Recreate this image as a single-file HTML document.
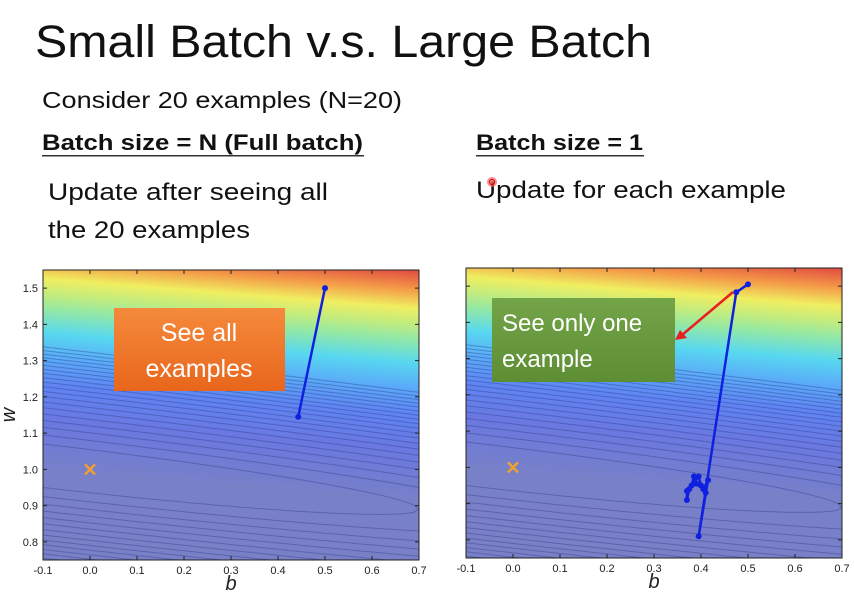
<!DOCTYPE html>
<html><head><meta charset="utf-8">
<style>
html,body{margin:0;padding:0;background:#fff;width:854px;height:603px;overflow:hidden;}
svg{display:block;}
text{font-family:"Liberation Sans",sans-serif;}
</style></head>
<body>
<svg id="root" width="854" height="603" viewBox="0 0 854 603" xmlns="http://www.w3.org/2000/svg">
<defs>
  <linearGradient id="heat" gradientUnits="userSpaceOnUse" x1="0" y1="290" x2="25.4" y2="-28">
    <stop offset="0" stop-color="#7a80c6"/>
    <stop offset="0.28" stop-color="#7880c8"/>
    <stop offset="0.4375" stop-color="#6a78e0"/>
    <stop offset="0.547" stop-color="#5f84f2"/>
    <stop offset="0.63" stop-color="#5aaaf8"/>
    <stop offset="0.71" stop-color="#58d8f0"/>
    <stop offset="0.78" stop-color="#90e8a8"/>
    <stop offset="0.828" stop-color="#c0ec80"/>
    <stop offset="0.88" stop-color="#f0ee60"/>
    <stop offset="0.9375" stop-color="#f49a48"/>
    <stop offset="1" stop-color="#e04a40"/>
  </linearGradient>
  <linearGradient id="orangeBox" x1="0" y1="0" x2="0" y2="1">
    <stop offset="0" stop-color="#f58a3c"/><stop offset="1" stop-color="#e8661c"/>
  </linearGradient>
  <linearGradient id="greenBox" x1="0" y1="0" x2="0" y2="1">
    <stop offset="0" stop-color="#74a448"/><stop offset="1" stop-color="#5e8e34"/>
  </linearGradient>
</defs>

<text x="35" y="57" font-size="45" textLength="617" lengthAdjust="spacingAndGlyphs" fill="#111">Small Batch v.s. Large Batch</text>
<text x="42" y="108" font-size="23" textLength="360" lengthAdjust="spacingAndGlyphs" fill="#111">Consider 20 examples (N=20)</text>
<text x="42" y="150" font-size="22" font-weight="bold" textLength="321" lengthAdjust="spacingAndGlyphs" fill="#111">Batch size = N (Full batch)</text>
<rect x="42" y="155" width="322" height="1.5" fill="#333"/>
<text x="476" y="150" font-size="22" font-weight="bold" textLength="167" lengthAdjust="spacingAndGlyphs" fill="#111">Batch size = 1</text>
<rect x="476" y="155" width="168" height="1.5" fill="#333"/>
<text x="48" y="200" font-size="24" textLength="280" lengthAdjust="spacingAndGlyphs" fill="#111">Update after seeing all</text>
<text x="48" y="238" font-size="24" textLength="202" lengthAdjust="spacingAndGlyphs" fill="#111">the 20 examples</text>
<text x="476" y="198" font-size="24" textLength="310" lengthAdjust="spacingAndGlyphs" fill="#111">Update for each example</text>
<circle cx="492" cy="182" r="5" fill="#ff6060" opacity="0.7"/>
<circle cx="492" cy="182" r="2.5" fill="none" stroke="#c00" stroke-width="1"/>

<g id="plotL" transform="translate(43,270)"></g>
<g id="plotR" transform="translate(466,268)"></g>
</svg>
<script>
// axis data
const xTicks = [-0.1, 0.0, 0.1, 0.2, 0.3, 0.4, 0.5, 0.6, 0.7];
const yTicks = [0.8, 0.9, 1.0, 1.1, 1.2, 1.3, 1.4, 1.5];
const xDomain = [-0.1, 0.7];
const yDomain = [0.75, 1.55];
const targetB = [0.0];
const targetW = [1.0];
// full batch path
const fullB = [0.5, 0.443];
const fullW = [1.5, 1.145];
// batch size 1 path
const sgdB = [0.5, 0.475, 0.395, 0.415, 0.405, 0.39, 0.385, 0.38, 0.37, 0.37, 0.375, 0.395, 0.40, 0.41];
const sgdW = [1.505, 1.483, 0.81, 0.965, 0.94, 0.955, 0.975, 0.95, 0.935, 0.91, 0.94, 0.975, 0.95, 0.93];
// contour half-widths (in w) around the loss valley, one per level
const contourHalfWidths = [0.06, 0.085, 0.106, 0.125, 0.143, 0.16, 0.176, 0.191, 0.205, 0.218, 0.231, 0.243, 0.255, 0.266, 0.277, 0.288, 0.298, 0.308, 0.318, 0.328];

const NS = 'http://www.w3.org/2000/svg';
const W = 376, H = 290;
function sx(b){ return (b - xDomain[0]) / (xDomain[1] - xDomain[0]) * W; }
function sy(w){ return H - (w - yDomain[0]) / (yDomain[1] - yDomain[0]) * H; }
function valley(b){ return 1.01 - 0.15 * (b + 0.1); }
function mk(tag, attrs, parent){
  const e = document.createElementNS(NS, tag);
  for (const k in attrs) e.setAttribute(k, attrs[k]);
  parent.appendChild(e); return e;
}

function drawPlot(g, id, pathB, pathW, showYLabels){
  const clipId = 'clip' + id;
  const defs = document.querySelector('defs');
  const cp = mk('clipPath', {id: clipId}, defs);
  mk('rect', {x:0, y:0, width:W, height:H}, cp);
  const bg = mk('rect', {x:0, y:0, width:W, height:H, fill:'url(#heat)'}, g);
  
  
  const cg = mk('g', {'clip-path':'url(#' + clipId + ')', fill:'none', stroke:'#2c3a8a', 'stroke-opacity':'0.4', 'stroke-width':'1'}, g);
  
  
  const k = 0.0036 / 0.64;
  contourHalfWidths.forEach(hw => {
    const up = [], lo = [];
    for (let i = 0; i <= 80; i++){
      const b = -0.1 + 0.8 * i / 80;
      const r = hw*hw - k*(b + 0.1)*(b + 0.1);
      const h = Math.sqrt(Math.max(r, 0));
      up.push(sx(b).toFixed(1) + ',' + sy(valley(b) + h).toFixed(1));
      lo.unshift(sx(b).toFixed(1) + ',' + sy(valley(b) - h).toFixed(1));
    }
    const p = mk('polyline', {points: up.concat(lo).join(' ')}, cg);
    
    
  });
  const frame = mk('rect', {x:0, y:0, width:W, height:H, fill:'none', stroke:'#222', 'stroke-width':'1'}, g);
  
  
  xTicks.forEach(t => {
    const x = sx(t);
    mk('line', {x1:x, y1:H, x2:x, y2:H-4, stroke:'#222'}, g);
    mk('line', {x1:x, y1:0, x2:x, y2:4, stroke:'#222'}, g);
    const tx = mk('text', {x:x, y:H+14, 'font-size':'11', 'text-anchor':'middle', fill:'#222'}, g);
    
    
    tx.textContent = t.toFixed(1);
  });
  yTicks.forEach(t => {
    const y = sy(t);
    mk('line', {x1:0, y1:y, x2:4, y2:y, stroke:'#222'}, g);
    mk('line', {x1:W, y1:y, x2:W-4, y2:y, stroke:'#222'}, g);
    if (showYLabels){
      const ty = mk('text', {x:-5, y:y+4, 'font-size':'11', 'text-anchor':'end', fill:'#222'}, g);
      
      
      ty.textContent = t.toFixed(1);
    }
  });
  const xl = mk('text', {x:W/2, y:H+30, 'font-size':'20', 'font-style':'italic', 'text-anchor':'middle', fill:'#222', 'font-family':'Liberation Serif, serif'}, g);
  
  
  xl.textContent = 'b';
  if (showYLabels){
    const yl = mk('text', {x:0, y:0, 'font-size':'20', 'font-style':'italic', 'text-anchor':'middle', fill:'#222', 'font-family':'Liberation Serif, serif', transform:'translate(-28,' + (H/2) + ') rotate(-90)'}, g);
    
    
    yl.textContent = 'w';
  }
  targetB.forEach((b, i) => {
    const x = sx(b), y = sy(targetW[i]);
    const m = mk('path', {d:'M' + (x-5) + ' ' + (y-5) + 'L' + (x+5) + ' ' + (y+5) + 'M' + (x+5) + ' ' + (y-5) + 'L' + (x-5) + ' ' + (y+5), stroke:'#f0a030', 'stroke-width':'2.5'}, g);
    
    
  });
  const pts = pathB.map((b, i) => sx(b) + ',' + sy(pathW[i])).join(' ');
  const pl = mk('polyline', {points:pts, fill:'none', stroke:'#1020e0', 'stroke-width':'2.5'}, g);
  
  
  pathB.forEach((b, i) => {
    const c = mk('circle', {cx:sx(b), cy:sy(pathW[i]), r:3, fill:'#1020e0'}, g);
    
    
  });
}

const gL = document.getElementById('plotL');
const gR = document.getElementById('plotR');
drawPlot(gL, 'L', fullB, fullW, true);
drawPlot(gR, 'R', sgdB, sgdW, false);

const root = document.getElementById('root');
const ob = mk('rect', {x:114, y:308, width:171, height:83, fill:'url(#orangeBox)'}, root);


const ot1 = mk('text', {x:199, y:341, 'font-size':'25', 'text-anchor':'middle', fill:'#fff'}, root);


ot1.textContent = 'See all';
const ot2 = mk('text', {x:199, y:377, 'font-size':'25', 'text-anchor':'middle', fill:'#fff'}, root);


ot2.textContent = 'examples';

const gb = mk('rect', {x:492, y:298, width:183, height:84, fill:'url(#greenBox)'}, root);


const gt1 = mk('text', {x:502, y:331, 'font-size':'24', fill:'#fff'}, root);


gt1.textContent = 'See only one';
const gt2 = mk('text', {x:502, y:367, 'font-size':'24', fill:'#fff'}, root);


gt2.textContent = 'example';

const ar = mk('line', {x1:733, y1:292, x2:682, y2:335, stroke:'#e82020', 'stroke-width':'2.5'}, root);


const ah = mk('polygon', {points:'675,340 680,330 687,338', fill:'#e82020'}, root);


</script>
</body></html>
